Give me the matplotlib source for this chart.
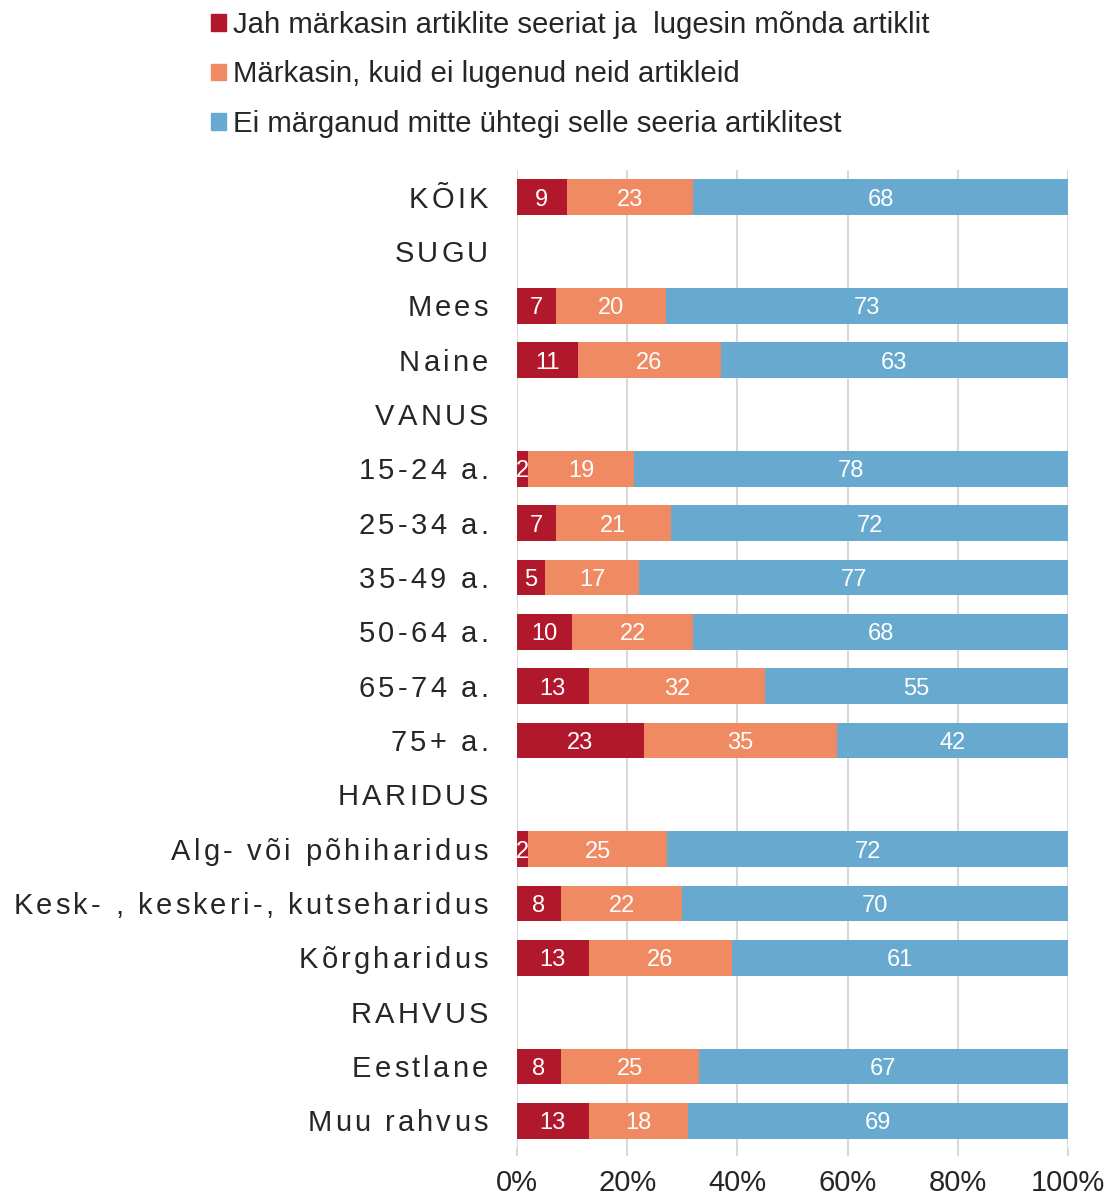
import numpy as np
import matplotlib
matplotlib.use('Agg')
import matplotlib.pyplot as plt
from matplotlib.patches import Patch
from matplotlib.font_manager import FontProperties

plt.rcParams['font.family'] = ['Liberation Sans', 'DejaVu Sans']

categories = ['KÕIK', 'SUGU', 'Mees', 'Naine', 'VANUS', '15-24 a.', '25-34 a.',
              '35-49 a.', '50-64 a.', '65-74 a.', '75+ a.', 'HARIDUS',
              'Alg- või põhiharidus', 'Kesk- , keskeri-, kutseharidus',
              'Kõrgharidus', 'RAHVUS', 'Eestlane', 'Muu rahvus']
read_some = [9, None, 7, 11, None, 2, 7, 5, 10, 13, 23, None, 2, 8, 13, None, 8, 13]
not_read = [23, None, 20, 26, None, 19, 21, 17, 22, 32, 35, None, 25, 22, 26, None, 25, 18]
not_noticed = [68, None, 73, 63, None, 78, 72, 77, 68, 55, 42, None, 72, 70, 61, None, 67, 69]

series_names = ['Jah märkasin artiklite seeriat ja  lugesin mõnda artiklit',
                'Märkasin, kuid ei lugenud neid artikleid',
                'Ei märganud mitte ühtegi selle seeria artiklitest']
colors = ['#b2182b', '#ef8a62', '#67a9cf']
xticks = [0, 20, 40, 60, 80, 100]

DPI = 100
fig = plt.figure(figsize=(11.08, 11.96), dpi=DPI)
ax = fig.add_axes([517 / 1108, 1 - 1148 / 1196, 551 / 1108, 978 / 1196])

data = np.array([[np.nan if v is None else v for v in s]
                 for s in (read_some, not_read, not_noticed)], dtype=float)
totals = np.nansum(data, axis=0)
totals[totals == 0] = 1
shares = data / totals * 100
y = np.arange(len(categories))

left = np.zeros(len(categories))
for i in range(3):
    w = np.nan_to_num(shares[i])
    ax.barh(y, w, left=left, height=0.66, color=colors[i], zorder=2)
    for yi, (l, wi, v) in enumerate(zip(left, w, data[i])):
        if not np.isnan(v):
            ax.text(l + wi / 2, yi, f'{int(v)}', ha='center', va='center_baseline',
                    color='white', fontsize=17, zorder=3)
    left += w

ax.set_xlim(0, 100)
ax.set_ylim(len(categories) - 0.5, -0.5)
ax.set_xticks(xticks)
ax.set_xticklabels([f'{t}%' for t in xticks], fontsize=21, color='#262626')
ax.set_yticks([])
ax.grid(axis='x', color='#d9d9d9', linewidth=1.5, zorder=0)
ax.tick_params(axis='x', length=6, width=1.5, color='#d9d9d9', pad=9)
for sp in ax.spines.values():
    sp.set_visible(False)

# category labels with extra letter spacing, drawn char by char
renderer = fig.canvas.get_renderer()
fs = 21
prop = FontProperties(family=['Liberation Sans', 'DejaVu Sans'], size=fs)
bar_w = renderer.get_text_width_height_descent('||', prop, ismath=False)[0]
spacing = 3.2
cap = 0.716 * fs * DPI / 72
for yi, label in enumerate(categories):
    widths = [renderer.get_text_width_height_descent('|' + ch + '|', prop, ismath=False)[0] - bar_w
              for ch in label]
    total = sum(widths) + spacing * (len(label) - 1)
    x = -29 - total
    for ch, wch in zip(label, widths):
        ax.annotate(ch, xy=(0, yi), xycoords=ax.get_yaxis_transform(),
                    xytext=(x * 72 / DPI, -cap / 2 * 72 / DPI), textcoords='offset points',
                    ha='left', va='baseline', fontproperties=prop, color='#262626',
                    annotation_clip=False)
        x += wch + spacing

handles = [Patch(color=c) for c in colors]
fig.legend(handles, series_names, loc='upper left',
           bbox_to_anchor=(211 / 1108, 1 - 11 / 1196), frameon=False, fontsize=21.2,
           handlelength=0.5, handleheight=0.5, handletextpad=0.25,
           labelspacing=0.73, borderpad=0, borderaxespad=0, labelcolor='#262626')

fig.savefig('out.png', dpi=DPI)
